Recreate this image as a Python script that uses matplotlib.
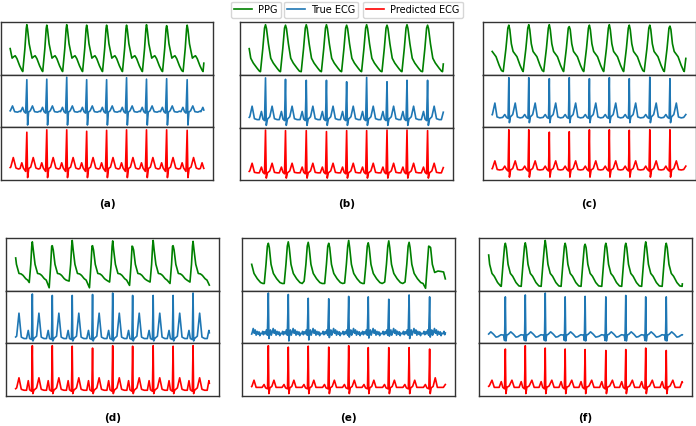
import numpy as np
import matplotlib
matplotlib.use('Agg')
import matplotlib.pyplot as plt
from matplotlib.lines import Line2D

W, H, DPI = 696, 426, 100
T_END = 1000

series_names = ['PPG', 'True ECG', 'Predicted ECG']
series_colors = ['green', '#1f77b4', 'red']
panel_labels = ['(a)', '(b)', '(c)', '(d)', '(e)', '(f)']

# ---- panel (a) ----
ppg_beats_a = [-17, 86, 189, 292, 395, 498, 601, 704, 808, 914, 1017]
ecg_beats_a = [-17, 86, 189, 292, 395, 498, 601, 704, 808, 914, 1017]
ppg_peak_a = [1.0, 1.0, 0.99, 1.0, 0.99, 0.99, 0.99, 1.0, 0.98, 0.99, 1.0]
true_r_a = [0.95, 0.95, 0.96, 1.0, 0.95, 0.95, 0.99, 0.96, 0.97, 0.95, 0.95]
pred_r_a = [0.97, 0.95, 1.0, 1.0, 0.97, 0.99, 1.0, 1.0, 1.0, 0.99, 0.99]
ppg_tpl_a = [(-21, 0.02), (-10, 0.5), (-3, 0.92), (0, 1.0), (4, 0.9), (12, 0.6), (27, 0.30),
             (35, 0.33), (43, 0.35), (52, 0.29), (66, 0.14), (78, 0.04)]
true_tpl_a = [(-32, 0.28), (-22, 0.37), (-14, 0.28), (-6, 0.25), (0, 0.95), (4, 0.0), (9, 0.27),
              (18, 0.30), (29, 0.40), (40, 0.28), (55, 0.27), (66, 0.29)]
pred_tpl_a = [(-35, 0.19), (-26, 0.31), (-18, 0.20), (-6, 0.13), (0, 1.0), (4, 0.0), (10, 0.19),
              (20, 0.22), (33, 0.42), (47, 0.20), (60, 0.18)]

# ---- panel (b) ----
ppg_beats_b = [-19, 84, 187, 294, 398, 502, 605, 710, 813, 919, 1022]
ecg_beats_b = [-19, 84, 187, 294, 398, 502, 605, 710, 813, 919, 1022]
ppg_peak_b = [1.0, 1.0, 0.99, 1.0, 1.0, 0.99, 1.0, 0.99, 1.0, 0.99, 1.0]
true_r_b = [0.95, 0.99, 0.96, 0.94, 0.94, 0.91, 1.0, 0.91, 0.94, 0.94, 0.95]
pred_r_b = [1.0, 1.0, 0.99, 0.99, 0.97, 0.99, 0.99, 1.0, 1.0, 0.99, 1.0]
ppg_tpl_b = [(-26, 0.02), (-14, 0.5), (-5, 0.93), (0, 1.0), (5, 0.92), (15, 0.6), (27, 0.30),
             (40, 0.20), (60, 0.09), (72, 0.03)]
true_tpl_b = [(-32, 0.12), (-21, 0.29), (-13, 0.13), (-5, 0.10), (0, 0.95), (4, 0.0), (10, 0.13),
              (22, 0.18), (34, 0.40), (46, 0.14), (60, 0.12)]
pred_tpl_b = [(-32, 0.11), (-21, 0.23), (-13, 0.12), (-5, 0.09), (0, 1.0), (4, 0.0), (10, 0.11),
              (22, 0.15), (34, 0.31), (46, 0.12), (60, 0.11)]

# ---- panel (c) ----
ppg_beats_c = [-22, 86, 189, 295, 398, 502, 605, 708, 814, 918, 1021]
ecg_beats_c = [-19, 86, 189, 295, 398, 502, 605, 708, 814, 918, 1021]
ppg_peak_c = [1.0, 0.99, 1.0, 1.0, 0.96, 0.99, 1.0, 0.99, 0.99, 0.97, 1.0]
true_r_c = [0.97, 0.99, 0.99, 0.97, 0.99, 0.97, 0.99, 0.97, 1.0, 0.97, 0.97]
pred_r_c = [1.0, 1.0, 1.0, 0.95, 0.96, 1.0, 1.0, 0.99, 1.0, 1.0, 1.0]
ppg_tpl_c = [(-29, 0.02), (-15, 0.5), (-5, 0.93), (0, 1.0), (5, 0.9), (13, 0.6), (22, 0.44),
             (42, 0.33), (58, 0.15), (70, 0.04)]
true_tpl_c = [(-32, 0.16), (-21, 0.22), (-12, 0.16), (-4, 0.14), (0, 0.97), (3, 0.05), (8, 0.17),
              (20, 0.22), (33, 0.46), (44, 0.17), (58, 0.15)]
pred_tpl_c = [(-32, 0.17), (-21, 0.24), (-12, 0.17), (-4, 0.14), (0, 1.0), (3, 0.01), (9, 0.16),
              (20, 0.19), (33, 0.35), (45, 0.17), (58, 0.16)]

# ---- panel (d) ----
ppg_beats_d = [-10, 86, 189, 292, 397, 501, 604, 710, 813, 916, 1019]
ecg_beats_d = [-17, 86, 189, 292, 397, 501, 604, 710, 813, 916, 1019]
ppg_peak_d = [1.0, 0.97, 0.89, 1.0, 0.89, 0.99, 0.87, 1.0, 0.89, 0.98, 0.9]
ppg_trough_d = [0.1, 0.12, 0.01, 0.15, 0.01, 0.13, 0.06, 0.13, 0.1, 0.13, 0.04]
true_r_d = [0.98, 0.98, 0.95, 0.95, 0.97, 1.0, 0.95, 0.95, 0.95, 1.0, 0.97]
pred_r_d = [1.0, 1.0, 1.0, 0.99, 0.95, 1.0, 0.99, 1.0, 0.99, 1.0, 1.0]
ppg_tpl_d = [(-16, 0.1), (-8, 0.5), (-3, 0.88), (0, 1.0), (5, 0.8), (14, 0.5), (27, 0.31),
             (38, 0.30), (48, 0.27), (62, 0.2), (72, 0.17)]
true_tpl_d = [(-30, 0.05), (-21, 0.22), (-14, 0.05), (-4, 0.03), (0, 0.98), (3, 0.0), (8, 0.05),
              (22, 0.1), (34, 0.58), (46, 0.08), (60, 0.05)]
pred_tpl_d = [(-30, 0.07), (-21, 0.27), (-14, 0.08), (-4, 0.05), (0, 1.0), (3, 0.0), (8, 0.07),
              (22, 0.12), (34, 0.33), (46, 0.09), (60, 0.07)]

# ---- panel (e) ----
ppg_beats_e = [-14, 86, 189, 292, 398, 501, 602, 708, 813, 919, 1022]
ecg_beats_e = [-17, 86, 189, 292, 398, 501, 602, 708, 813, 919, 1022]
ppg_peak_e = [1.0, 0.94, 0.97, 0.96, 0.94, 1.0, 0.95, 0.99, 0.96, 0.87, 1.0]
ppg_trough_e = [0.1, 0.1, 0.1, 0.15, 0.1, 0.11, 0.1, 0.13, 0.13, 0.0, 0.18]
ppg_notch_e = [0.31, 0.31, 0.31, 0.31, 0.31, 0.31, 0.31, 0.31, 0.31, 0.33, 0.31]
ppg_late_e = [0.20, 0.20, 0.20, 0.20, 0.20, 0.20, 0.20, 0.20, 0.20, 0.36, 0.20]
ppg_tail_e = [0.12, 0.12, 0.12, 0.12, 0.12, 0.12, 0.12, 0.12, 0.12, 0.35, 0.12]
ppg_end_e = [0.10, 0.10, 0.10, 0.10, 0.10, 0.10, 0.10, 0.10, 0.10, 0.34, 0.10]
true_r_e = [0.95, 1.0, 0.97, 0.89, 0.88, 0.93, 0.92, 0.87, 0.96, 0.92, 0.95]
true_s_e = [0.08, 0.05, 0.0, 0.02, 0.07, 0.08, 0.06, 0.1, 0.05, 0.08, 0.08]
pred_r_e = [0.95, 1.0, 0.97, 0.99, 0.97, 1.0, 0.96, 0.96, 0.96, 0.93, 0.95]
pred_t_e = [0.28, 0.28, 0.28, 0.28, 0.28, 0.28, 0.28, 0.28, 0.28, 0.33, 0.28]
ppg_tpl_e = [(-21, 0.1), (-12, 0.5), (-5, 0.88), (0, 1.0), (5, 0.85), (14, 0.5), (26, 0.31),
             (43, 0.20), (60, 0.12), (72, 0.10)]
true_tpl_e = [(-34, 0.15), (-29, 0.20), (-25, 0.13), (-20, 0.19), (-15, 0.15), (-10, 0.23),
              (-5, 0.12), (0, 0.95), (3, 0.05), (7, 0.17), (11, 0.23), (15, 0.12), (20, 0.18),
              (25, 0.26), (30, 0.16), (35, 0.23), (40, 0.12), (45, 0.20), (50, 0.14),
              (55, 0.19), (59, 0.11), (62, 0.16)]
pred_tpl_e = [(-32, 0.13), (-22, 0.19), (-14, 0.12), (-4, 0.10), (0, 1.0), (3, 0.0), (8, 0.12),
              (18, 0.15), (29, 0.28), (40, 0.13), (58, 0.13)]

# ---- panel (f) ----
ppg_beats_f = [-9, 86, 189, 292, 395, 498, 605, 708, 811, 917, 1020]
ecg_beats_f = [-17, 86, 189, 292, 395, 498, 605, 708, 811, 917, 1020]
ppg_peak_f = [1.0, 0.94, 0.95, 1.0, 0.94, 0.92, 0.94, 0.94, 0.97, 0.94, 1.0]
true_r_f = [0.92, 0.92, 0.96, 1.0, 0.92, 0.93, 0.92, 0.95, 0.92, 0.92, 0.92]
pred_r_f = [0.93, 0.93, 1.0, 0.95, 0.93, 0.92, 0.9, 0.92, 0.95, 0.9, 0.93]
ppg_tpl_f = [(-21, 0.04), (-12, 0.5), (-4, 0.88), (0, 1.0), (5, 0.85), (14, 0.5), (26, 0.31),
             (38, 0.25), (55, 0.12), (70, 0.05)]
true_tpl_f = [(-34, 0.10), (-22, 0.13), (-8, 0.12), (-4, 0.01), (0, 0.92), (3, 0.0), (7, 0.12),
              (16, 0.14), (28, 0.19), (42, 0.14), (55, 0.08), (66, 0.09)]
pred_tpl_f = [(-32, 0.13), (-21, 0.25), (-13, 0.13), (-4, 0.10), (0, 1.0), (3, 0.0), (8, 0.13),
              (20, 0.16), (34, 0.28), (46, 0.13), (60, 0.13)]


def build_trace(beats, template, overrides):
    """Place the read-off beat keypoints at each beat position."""
    ts, vs = [], []
    for i, b in enumerate(beats):
        for off, val in template:
            if off in overrides:
                val = overrides[off][i]
            ts.append(b + off)
            vs.append(val)
    ts = np.asarray(ts, float)
    vs = np.asarray(vs, float)
    order = np.argsort(ts, kind='stable')
    ts, vs = ts[order], vs[order]
    inside = (ts > 0) & (ts < T_END)
    v0 = np.interp(0, ts, vs)
    v1 = np.interp(T_END, ts, vs)
    return np.r_[0.0, ts[inside], float(T_END)], np.r_[v0, vs[inside], v1]


panels = [
    [build_trace(ppg_beats_a, ppg_tpl_a, {0: ppg_peak_a}),
     build_trace(ecg_beats_a, true_tpl_a, {0: true_r_a}),
     build_trace(ecg_beats_a, pred_tpl_a, {0: pred_r_a})],
    [build_trace(ppg_beats_b, ppg_tpl_b, {0: ppg_peak_b}),
     build_trace(ecg_beats_b, true_tpl_b, {0: true_r_b}),
     build_trace(ecg_beats_b, pred_tpl_b, {0: pred_r_b})],
    [build_trace(ppg_beats_c, ppg_tpl_c, {0: ppg_peak_c}),
     build_trace(ecg_beats_c, true_tpl_c, {0: true_r_c}),
     build_trace(ecg_beats_c, pred_tpl_c, {0: pred_r_c})],
    [build_trace(ppg_beats_d, ppg_tpl_d, {0: ppg_peak_d, -16: ppg_trough_d}),
     build_trace(ecg_beats_d, true_tpl_d, {0: true_r_d}),
     build_trace(ecg_beats_d, pred_tpl_d, {0: pred_r_d})],
    [build_trace(ppg_beats_e, ppg_tpl_e, {0: ppg_peak_e, -21: ppg_trough_e, 26: ppg_notch_e,
                                          43: ppg_late_e, 60: ppg_tail_e, 72: ppg_end_e}),
     build_trace(ecg_beats_e, true_tpl_e, {0: true_r_e, 3: true_s_e}),
     build_trace(ecg_beats_e, pred_tpl_e, {0: pred_r_e, 29: pred_t_e})],
    [build_trace(ppg_beats_f, ppg_tpl_f, {0: ppg_peak_f}),
     build_trace(ecg_beats_f, true_tpl_f, {0: true_r_f}),
     build_trace(ecg_beats_f, pred_tpl_f, {0: pred_r_f})],
]

fig = plt.figure(figsize=(W / DPI, H / DPI), dpi=DPI)

# panel boxes in pixels: left, top, right, bottom
boxes = [(0.5, 22.3, 213.5, 180.0), (239.5, 22.3, 453.0, 180.5), (482.5, 22.3, 695.5, 180.0),
         (6.0, 238.0, 219.0, 396.0), (242.0, 238.0, 455.0, 396.0), (479.0, 238.0, 692.0, 396.0)]
label_y = [204, 204, 204, 418, 418, 418]

for p, (traces, (x0, y0, x1, y1)) in enumerate(zip(panels, boxes)):
    h = (y1 - y0) / 3.0
    for k, (t, v) in enumerate(traces):
        top = y0 + k * h
        ax = fig.add_axes([x0 / W, 1 - (top + h) / H, (x1 - x0) / W, h / H])
        ax.plot(t, v, color=series_colors[k], lw=1.2)
        ax.set_xlim(-0.05 * T_END, 1.05 * T_END)
        ax.set_ylim(-0.05, 1.05)
        ax.set_xticks([])
        ax.set_yticks([])
        for s in ax.spines.values():
            s.set_color('#333333')
            s.set_linewidth(1.0)
    fig.text(((x0 + x1) / 2) / W, 1 - label_y[p] / H, panel_labels[p],
             ha='center', va='center', fontsize=7.5, fontweight='bold')

# legend: three adjacent framed entries
leg_left = [231, 284, 363]
for k in range(3):
    handle = Line2D([], [], color=series_colors[k], lw=1.2)
    fig.legend([handle], [series_names[k]], loc='upper left',
               bbox_to_anchor=(leg_left[k] / W, 1 - 1.5 / H), borderaxespad=0,
               fontsize=7, handlelength=1.8, handletextpad=0.6, borderpad=0.35,
               frameon=True, fancybox=True, edgecolor='0.8')

fig.savefig('out.png', dpi=DPI)
